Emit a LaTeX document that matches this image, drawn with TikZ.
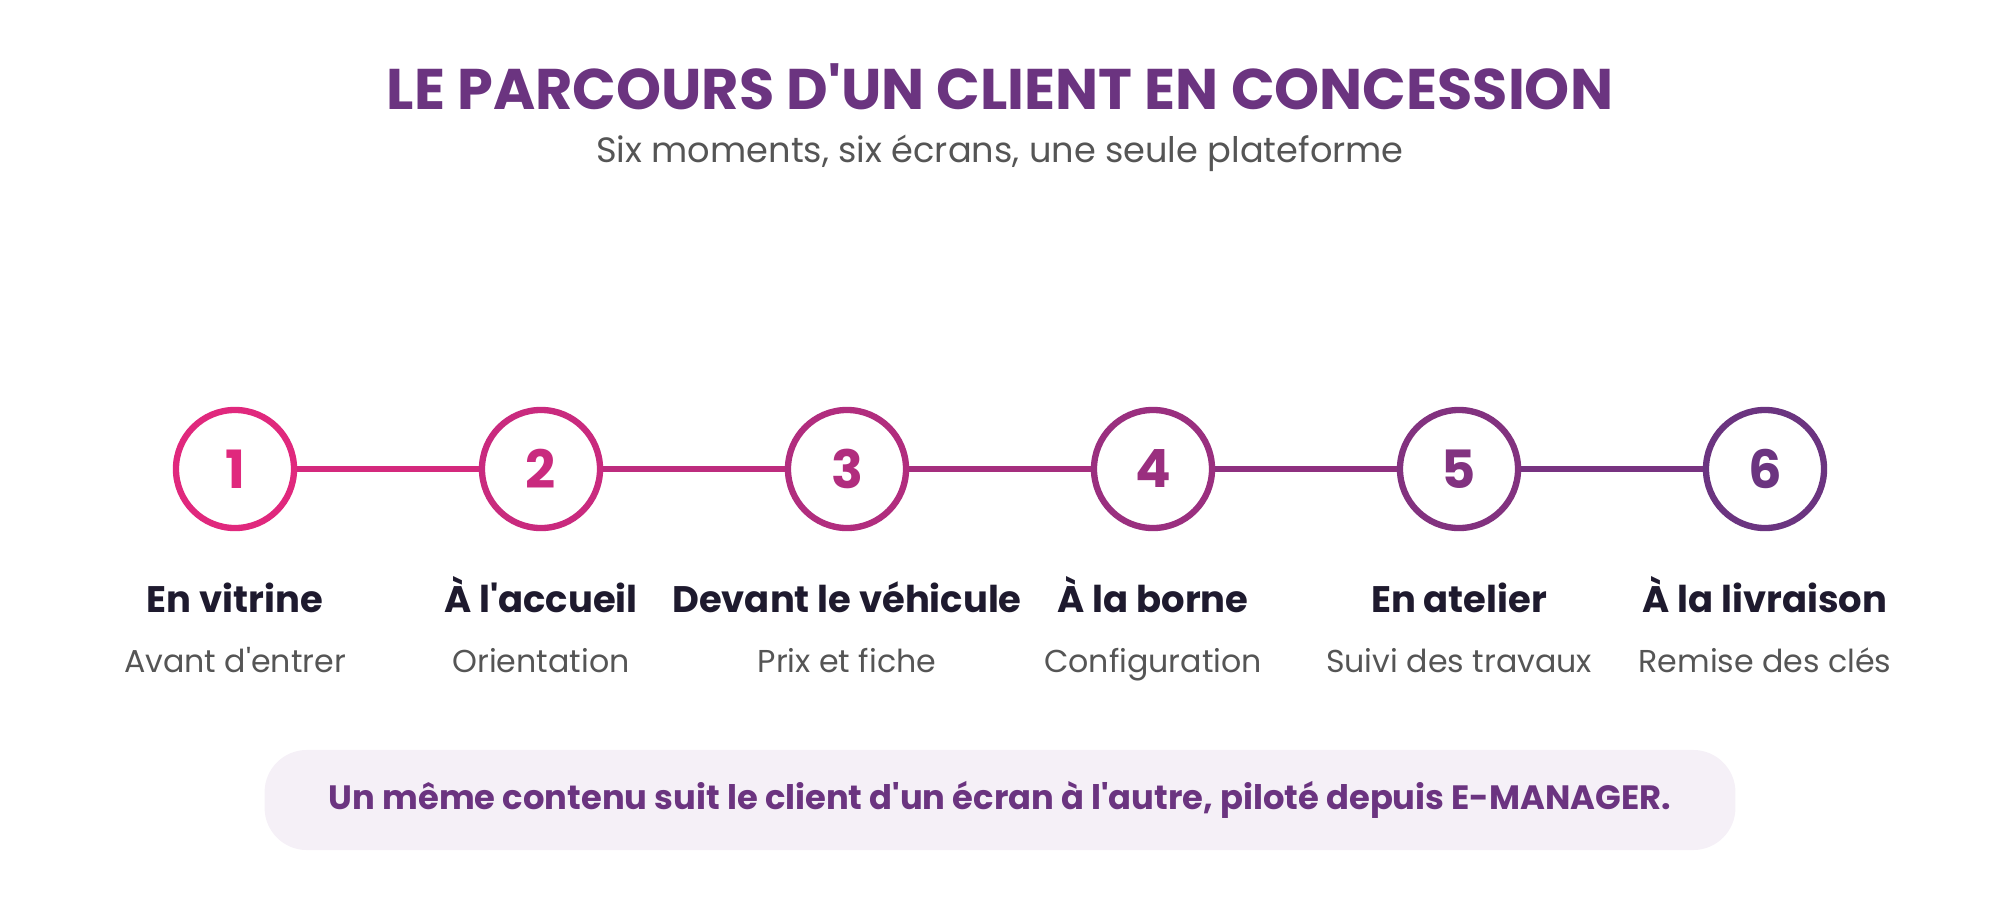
\documentclass[tikz,border=0pt]{standalone}
\usepackage{fontspec}
\setmainfont{Poppins}
\usetikzlibrary{positioning}
\definecolor{pinkA}{HTML}{E0287D}
\definecolor{purpleB}{HTML}{6B3480}
\definecolor{inkdark}{HTML}{1E1A2E}
\definecolor{inkgrey}{HTML}{555555}
\definecolor{boxfill}{HTML}{F5F0F7}
\newcommand{\q}{\textquotesingle}
\begin{document}
\begin{tikzpicture}[x=0.01cm, y=0.01cm,
  stepnode/.style = {draw, circle, line width=1.8pt, fill=white, minimum size=1.18cm, inner sep=0pt, font=\bfseries\fontsize{15}{18}\selectfont},
  stage/.style = {text=inkdark, anchor=base, font=\bfseries\fontsize{10.5}{12}\selectfont},
  hint/.style = {text=inkgrey, anchor=base, font=\fontsize{9}{11}\selectfont}]
\useasboundingbox (0,0) rectangle (2000,-900);
\node[text=purpleB, font=\bfseries\fontsize{16.3}{19}\selectfont] (title) at (1000,-87) {LE PARCOURS D\q UN CLIENT EN CONCESSION};
\node[text=inkgrey, font=\fontsize{10}{12}\selectfont] (sub) at (1000,-153) {Six moments, six écrans, une seule plateforme};
% etapes
\foreach \i/\t/\s [evaluate=\i as \pc using {100-(\i-1)*20}] in
  {1/En vitrine/Avant d\q entrer, 2/À l\q accueil/Orientation, 3/Devant le véhicule/Prix et fiche,
   4/À la borne/Configuration, 5/En atelier/Suivi des travaux, 6/À la livraison/Remise des clés}{
  \colorlet{stepcol}{pinkA!\pc!purpleB}
  \node[stepnode, draw=stepcol, text=stepcol] (c\i) at ({235+(\i-1)*306},-469) {\i};
  \node[stage] (t\i) at ({235+(\i-1)*306},-612) {\t};
  \node[hint] (h\i) at ({235+(\i-1)*306},-672) {\s};
}
\foreach \i/\j [evaluate=\i as \pc using {90-(\i-1)*20}] in {1/2,2/3,3/4,4/5,5/6}
  \draw[line width=1.8pt, pinkA!\pc!purpleB] (c\i) -- (c\j);
\node[fill=boxfill, rounded corners=12pt, minimum width=14.7cm, minimum height=1cm,
  text=purpleB, font=\bfseries\fontsize{9.6}{11}\selectfont] (note) at (1000,-800)
  {Un même contenu suit le client d\q un écran à l\q autre, piloté depuis E-MANAGER.};
\end{tikzpicture}
\end{document}
